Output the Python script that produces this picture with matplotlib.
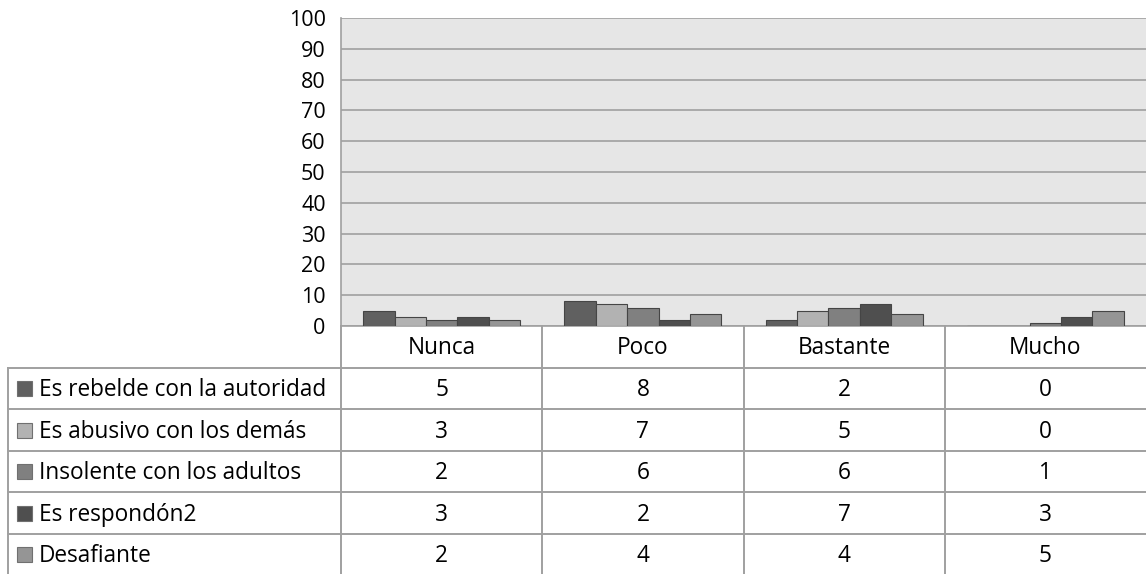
import matplotlib
matplotlib.use("Agg")
import matplotlib.pyplot as plt
import numpy as np

# Data
categories = ["Nunca", "Poco", "Bastante", "Mucho"]
series_names = [
    "Es rebelde con la autoridad",
    "Es abusivo con los demás",
    "Insolente con los adultos",
    "Es respondón2",
    "Desafiante",
]
rebelde = [5, 8, 2, 0]
abusivo = [3, 7, 5, 0]
insolente = [2, 6, 6, 1]
respondon = [3, 2, 7, 3]
desafiante = [2, 4, 4, 5]
all_values = [rebelde, abusivo, insolente, respondon, desafiante]
colors = ["#606060", "#b2b2b2", "#808080", "#4f4f4f", "#959595"]
y_ticks = list(range(0, 101, 10))

W, H = 1146, 574
FS = 16.3
plt.rcParams["font.family"] = ["Open Sans", "DejaVu Sans"]
fig = plt.figure(figsize=(W / 100, H / 100), dpi=100)

# pixel geometry of the plot area
left, right, top, bottom = 341, 1146, 18, 326
ax = fig.add_axes([left / W, 1 - bottom / H, (right - left) / W, (bottom - top) / H])
ax.set_facecolor("#e6e6e6")

n = len(all_values)
bar_w = 0.78 / n
x = np.arange(len(categories))
for i, (vals, c) in enumerate(zip(all_values, colors)):
    ax.bar(x - 0.39 + bar_w * (i + 0.5), vals, width=bar_w, color=c,
           edgecolor="#454545", linewidth=0.8, zorder=3)

ax.set_xlim(-0.5, len(categories) - 0.5)
ax.set_ylim(0, 100)
ax.set_yticks(y_ticks)
ax.set_yticklabels([str(t) for t in y_ticks], fontsize=15.5)
ax.tick_params(axis="y", length=0, pad=11)
ax.set_xticks([])
ax.yaxis.grid(True, color="#a0a0a0", linewidth=1.2, zorder=1)
for s in ["top", "right"]:
    ax.spines[s].set_visible(False)
ax.spines["left"].set_color("#a0a0a0")
ax.spines["left"].set_linewidth(1.2)
ax.spines["bottom"].set_color("#a0a0a0")
ax.spines["bottom"].set_linewidth(1.2)

# data table below the chart, drawn in pixel coordinates
tab = fig.add_axes([0, 0, 1, 1])
tab.set_xlim(0, W)
tab.set_ylim(H, 0)
tab.axis("off")
tab.patch.set_alpha(0)

line_c = "#a0a0a0"
col_w = (right - left) / len(categories)
row_h = 41.6
header_bottom = bottom + row_h
col_edges = [left + col_w * k for k in range(len(categories))]
for xe in col_edges:
    tab.plot([xe, xe], [bottom, H], color=line_c, lw=1.4)
tab.plot([8, 8], [header_bottom, H], color=line_c, lw=1.4)
for r in range(len(series_names)):
    yl = header_bottom + r * row_h
    tab.plot([8, W], [yl, yl], color=line_c, lw=1.4)

dy = 1.5  # small nudge so text sits like the reference
for k, cat in enumerate(categories):
    tab.text(left + col_w * (k + 0.5), bottom + row_h / 2 + dy, cat,
             ha="center", va="center", fontsize=FS)

for r, (name, vals, c) in enumerate(zip(series_names, all_values, colors)):
    yc = header_bottom + (r + 0.5) * row_h
    tab.add_patch(plt.Rectangle((17, yc - 7.5), 15, 15, facecolor=c,
                                edgecolor="#707070", lw=0.8))
    tab.text(39, yc + dy, name, ha="left", va="center", fontsize=FS)
    for k, v in enumerate(vals):
        tab.text(left + col_w * (k + 0.5), yc + dy, str(v),
                 ha="center", va="center", fontsize=FS)

fig.savefig("out.png", dpi=100)
